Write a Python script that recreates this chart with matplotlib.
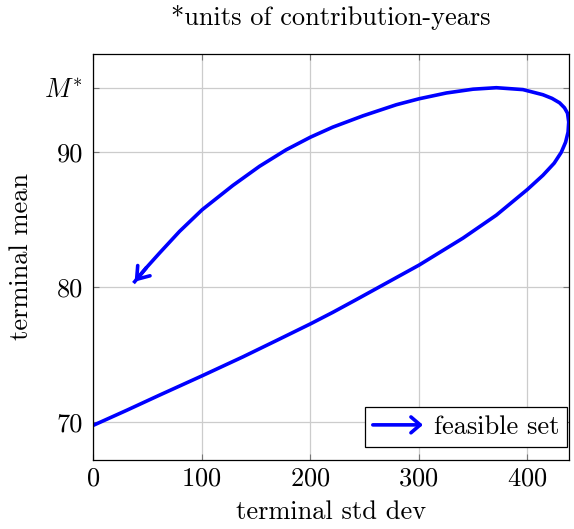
import matplotlib
matplotlib.use("Agg")
from matplotlib import pyplot as plt
from matplotlib.legend_handler import HandlerBase
from matplotlib.patches import FancyArrowPatch

plt.rcParams['font.family'] = 'serif'
plt.rcParams['font.serif'] = ['cmr10']
plt.rcParams['mathtext.fontset'] = 'cm'
plt.rcParams['axes.formatter.use_mathtext'] = True

# feasible set (std dev, mean), start -> arrow tip
std_dev = [0, 30.7, 61.4, 100.6, 138.1, 168.8, 200.5, 221, 242.8, 264.3,
           300.5, 341, 371.7, 400.3, 414.6, 425, 431.5, 435.5, 437.8, 438.4,
           437.3, 434.5, 430, 423, 414.6, 396.2, 371.7, 350.2, 325.7, 300.5,
           279.6, 248.9, 221, 200.5, 178, 153.5, 128.9, 100.6, 79.8, 61.4,
           49.1, 38.4]
mean = [69.72, 70.83, 71.97, 73.4, 74.8, 76.0, 77.25, 78.1, 79.05, 80.0,
        81.6, 83.6, 85.3, 87.2, 88.25, 89.15, 89.95, 90.7, 91.45, 92.2,
        92.85, 93.25, 93.62, 93.95, 94.22, 94.6, 94.74, 94.63, 94.35, 93.92,
        93.48, 92.66, 91.82, 91.08, 90.14, 88.92, 87.5, 85.7, 84.1, 82.5,
        81.4, 80.37]
m_star = 94.74
x_ticks = [0, 100, 200, 300, 400]
y_ticks = [70, 80, 90, m_star]
y_labels = ['70', '80', '90', r'$M^{*}$']

FS = 19


class ArrowHandler(HandlerBase):
    def create_artists(self, legend, orig_handle, xdescent, ydescent,
                       width, height, fontsize, trans):
        y = height / 2 - ydescent
        arr = FancyArrowPatch((-xdescent, y), (-xdescent + width, y),
                              arrowstyle='->,head_length=0.35,head_width=0.3',
                              mutation_scale=fontsize, color='blue', lw=2.6,
                              transform=trans, shrinkA=0, shrinkB=0)
        return [arr]


fig = plt.figure(figsize=(5.74, 5.29), dpi=100)
ax = fig.add_axes([0.162, 0.1304, 0.829, 0.7676])

line, = ax.plot(std_dev, mean, color='blue', lw=2.6, solid_joinstyle='round')
head = FancyArrowPatch((std_dev[-2], mean[-2]), (std_dev[-1], mean[-1]),
                       arrowstyle='->,head_length=0.45,head_width=0.32',
                       color='blue', lw=2.6, shrinkA=0, shrinkB=0,
                       mutation_scale=18)
ax.add_patch(head)

ax.set_xlim(0, 438.5)
ax.set_ylim(67.16, 97.24)
ax.set_xticks(x_ticks)
ax.set_yticks(y_ticks)
ax.set_yticklabels(y_labels)
ax.grid(True, color='#cccccc', lw=0.9)
ax.set_axisbelow(True)
ax.tick_params(direction='in', length=4, width=0.8, color='#777777',
               top=True, right=True, labelsize=FS, pad=7)
ax.tick_params(axis='x', pad=5)
for s in ax.spines.values():
    s.set_linewidth(0.9)

ax.set_xlabel('terminal std dev', fontsize=FS, labelpad=7)
ax.set_ylabel('terminal mean', fontsize=FS, labelpad=8)
ax.set_title('*units of contribution-years', fontsize=FS, pad=21)

leg = ax.legend([line], ['feasible set'], loc='lower right',
                bbox_to_anchor=(0.996, 0.032), borderaxespad=0,
                handler_map={line: ArrowHandler()}, fontsize=FS,
                fancybox=False, edgecolor='black', framealpha=1,
                handlelength=1.9, handletextpad=0.4, borderpad=0.3)
leg.get_frame().set_linewidth(0.9)

fig.savefig('out.png', dpi=100)
